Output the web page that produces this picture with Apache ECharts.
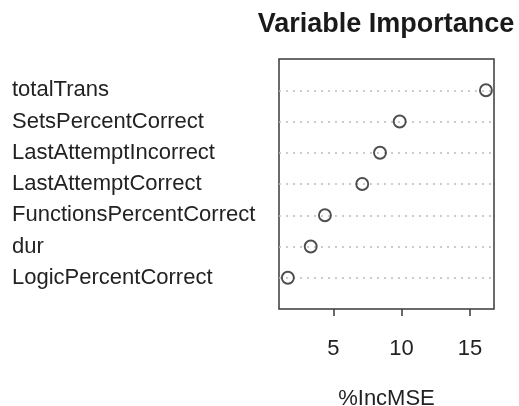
<!DOCTYPE html>
<html>
<head>
<meta charset="utf-8">
<script src="https://cdn.jsdelivr.net/npm/echarts@6/dist/echarts.min.js"></script>
<style>
html,body{margin:0;padding:0;background:#fff;}
#chart{width:519px;height:406px;}
</style>
</head>
<body>
<div id="chart"></div>
<script>
// Variables listed bottom to top (dotchart order)
const variables = ['LogicPercentCorrect', 'dur', 'FunctionsPercentCorrect', 'LastAttemptCorrect', 'LastAttemptIncorrect', 'SetsPercentCorrect', 'totalTrans'];
const incMSE = [1.68, 3.35, 4.39, 7.12, 8.42, 9.86, 16.17];
const xTicks = [5, 10, 15];
const chartTitle = 'Variable Importance';
const xTitle = '%IncMSE';

const positions = variables.map((_, i) => i + 1);
const font = 'Liberation Sans, Arial, Helvetica, sans-serif';

const chart = echarts.init(document.getElementById('chart'));
chart.setOption({
  animation: false,
  backgroundColor: '#fff',
  title: {
    text: chartTitle,
    left: 386,
    top: 11,
    padding: 0,
    textAlign: 'center',
    textStyle: { fontFamily: font, fontSize: 27, fontWeight: 'bold', color: '#1a1a1a' }
  },
  grid: {
    left: 279, right: 25, top: 59, bottom: 97,
    containLabel: false,
    outerBoundsMode: 'none',
    show: true, borderColor: '#3a3a3a', borderWidth: 1.5, backgroundColor: 'transparent'
  },
  xAxis: {
    type: 'value',
    min: 1.03, max: 16.76,
    axisLine: { show: false },
    splitLine: { show: false },
    axisTick: { show: true, customValues: xTicks, length: 7, lineStyle: { color: '#3a3a3a', width: 1.5 } },
    axisLabel: { customValues: xTicks, margin: 29, fontFamily: font, fontSize: 22, color: '#222' },
    name: xTitle,
    nameLocation: 'middle',
    nameGap: 79,
    nameTextStyle: { fontFamily: font, fontSize: 22, color: '#222' }
  },
  yAxis: {
    type: 'value',
    min: 0, max: 8,
    axisLine: { show: false },
    axisTick: { show: false },
    splitLine: { show: false },
    axisLabel: {
      customValues: positions,
      formatter: v => variables[v - 1] || '',
      align: 'left',
      margin: 267,
      fontFamily: font, fontSize: 22, color: '#222'
    }
  },
  series: [{
    type: 'scatter',
    data: incMSE.map((v, i) => [v, positions[i]]),
    symbol: 'circle',
    symbolSize: 12,
    itemStyle: { color: 'rgba(0,0,0,0)', borderColor: '#222', borderWidth: 1.9 },
    z: 5,
    markLine: {
      silent: true,
      symbol: ['none', 'none'],
      label: { show: false },
      lineStyle: { color: '#bcbcbc', type: [2, 5], width: 1.5 },
      data: positions.map(p => ({ yAxis: p })),
      z: 1
    }
  }]
});
</script>
</body>
</html>
